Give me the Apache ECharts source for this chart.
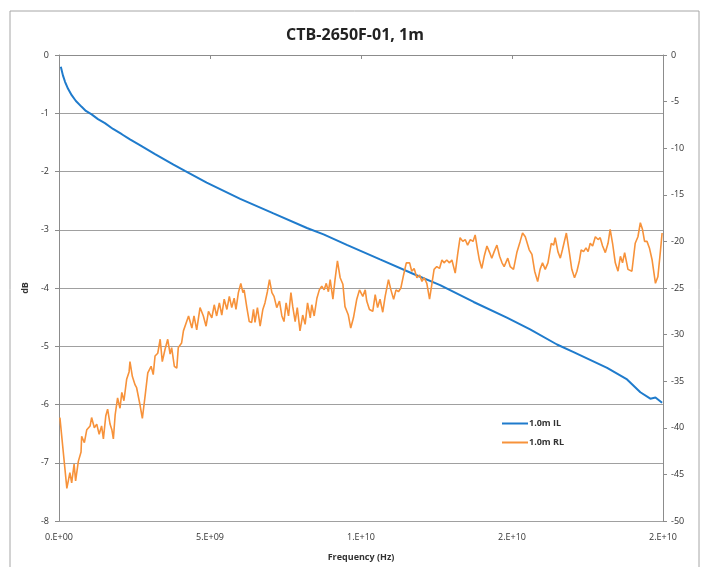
<!DOCTYPE html>
<html>
<head>
<meta charset="utf-8">
<script src="https://cdn.jsdelivr.net/npm/echarts@6/dist/echarts.min.js"></script>
<style>
  html, body { margin: 0; padding: 0; background: #fff; }
  #chart { width: 710px; height: 567px; }
</style>
</head>
<body>
<div id="chart"></div>
<script>
// 1.0m IL, frequency in GHz, loss in dB (left axis)
var ilFreq = [0.06, 0.13, 0.20, 0.30, 0.42, 0.56, 0.75, 0.89, 1.08, 1.29, 1.52, 1.79, 2.08, 2.35,
  2.65, 3.18, 3.79, 4.17, 4.89, 6.00, 7.10, 8.21, 8.76, 9.53, 10.63, 11.74, 12.62, 13.73, 14.83,
  15.60, 16.49, 17.04, 18.15, 18.81, 19.25, 19.58, 19.75, 19.97];
var ilValues = [-0.20, -0.35, -0.46, -0.58, -0.69, -0.79, -0.89, -0.96, -1.02, -1.10, -1.17, -1.27,
  -1.36, -1.45, -1.54, -1.70, -1.88, -1.99, -2.19, -2.47, -2.72, -2.97, -3.08, -3.26, -3.51, -3.76,
  -3.95, -4.24, -4.51, -4.71, -4.97, -5.10, -5.37, -5.57, -5.79, -5.90, -5.88, -5.97];

// 1.0m RL, frequency in GHz, dB (right axis)
var rlFreq = [0.03, 0.26, 0.36, 0.42, 0.50, 0.55, 0.64, 0.73, 0.75, 0.84, 0.92, 1.03, 1.08, 1.17,
  1.25, 1.33, 1.41, 1.47, 1.55, 1.61, 1.69, 1.75, 1.80, 1.86, 1.94, 2.02, 2.08, 2.15, 2.24, 2.32,
  2.35, 2.43, 2.52, 2.57, 2.68, 2.76, 2.85, 2.94, 3.05, 3.12, 3.18, 3.27, 3.35, 3.42, 3.51, 3.60,
  3.68, 3.73, 3.82, 3.90, 3.95, 4.06, 4.12, 4.29, 4.40, 4.47, 4.56, 4.67, 4.78, 4.87, 4.95, 5.06,
  5.14, 5.22, 5.31, 5.39, 5.47, 5.56, 5.64, 5.72, 5.80, 5.86, 5.94, 6.02, 6.09, 6.13, 6.22, 6.30,
  6.38, 6.44, 6.49, 6.57, 6.66, 6.75, 6.82, 6.90, 6.97, 7.05, 7.12, 7.21, 7.30, 7.38, 7.45, 7.52,
  7.60, 7.68, 7.74, 7.82, 7.89, 7.98, 8.07, 8.15, 8.23, 8.32, 8.37, 8.45, 8.54, 8.62, 8.70, 8.78,
  8.85, 8.92, 8.98, 9.07, 9.14, 9.22, 9.31, 9.40, 9.47, 9.58, 9.66, 9.75, 9.86, 9.95, 10.06, 10.14,
  10.19, 10.28, 10.39, 10.47, 10.55, 10.63, 10.72, 10.80, 10.91, 10.99, 11.08, 11.16, 11.24, 11.32,
  11.41, 11.50, 11.61, 11.68, 11.76, 11.85, 11.94, 12.02, 12.09, 12.18, 12.27, 12.35, 12.42, 12.51,
  12.60, 12.68, 12.75, 12.84, 12.93, 13.01, 13.12, 13.20, 13.28, 13.37, 13.45, 13.53, 13.62, 13.71,
  13.78, 13.86, 13.92, 14.00, 14.08, 14.17, 14.26, 14.33, 14.41, 14.50, 14.59, 14.67, 14.74, 14.86,
  14.94, 15.05, 15.16, 15.27, 15.35, 15.44, 15.49, 15.57, 15.66, 15.75, 15.85, 15.93, 16.01, 16.10,
  16.19, 16.30, 16.38, 16.43, 16.52, 16.60, 16.67, 16.80, 16.90, 16.98, 17.07, 17.15, 17.23, 17.29,
  17.37, 17.45, 17.52, 17.59, 17.67, 17.76, 17.85, 17.92, 18.00, 18.09, 18.18, 18.25, 18.33, 18.42,
  18.51, 18.59, 18.66, 18.73, 18.84, 18.97, 19.08, 19.17, 19.25, 19.32, 19.39, 19.47, 19.55, 19.64,
  19.75, 19.83, 19.91, 19.97];
var rlValues = [-38.9, -46.5, -44.8, -45.9, -43.9, -45.7, -43.6, -42.6, -40.9, -41.6, -40.2, -39.8,
  -38.9, -40.0, -39.6, -40.7, -39.8, -41.2, -38.7, -38.0, -39.6, -40.2, -41.2, -38.6, -36.8, -37.9,
  -36.2, -37.1, -34.8, -34.0, -32.9, -34.5, -35.4, -35.7, -37.5, -39.0, -36.6, -34.1, -33.4, -34.3,
  -32.3, -32.0, -30.5, -32.9, -31.6, -30.5, -32.1, -31.4, -33.4, -33.6, -31.4, -30.9, -29.6, -28.0,
  -29.3, -28.0, -29.5, -27.1, -28.0, -29.1, -27.5, -28.2, -26.8, -28.0, -26.6, -27.9, -26.2, -27.3,
  -25.9, -27.1, -26.1, -27.3, -25.5, -24.5, -25.5, -25.2, -27.1, -28.6, -28.7, -27.3, -28.7, -27.1,
  -29.1, -27.3, -26.6, -25.4, -24.1, -25.5, -25.9, -27.1, -26.4, -28.0, -28.6, -26.6, -28.0, -25.5,
  -27.0, -28.6, -27.1, -29.6, -27.9, -28.9, -26.6, -28.2, -26.8, -28.0, -26.1, -25.2, -24.8, -25.2,
  -24.5, -25.4, -24.1, -26.2, -24.1, -22.1, -23.9, -24.6, -27.0, -27.9, -29.3, -28.2, -26.2, -25.2,
  -25.9, -25.2, -26.4, -27.3, -27.5, -25.7, -27.1, -26.2, -27.6, -25.9, -24.1, -25.2, -26.2, -25.2,
  -25.4, -25.0, -23.6, -22.3, -22.3, -23.2, -22.9, -23.9, -23.6, -24.3, -23.9, -24.5, -26.2, -24.5,
  -23.0, -22.7, -22.9, -22.0, -22.3, -22.0, -22.3, -22.0, -23.4, -21.4, -19.6, -20.0, -19.8, -20.4,
  -19.8, -20.0, -19.3, -20.9, -22.0, -22.9, -21.6, -20.5, -21.2, -21.8, -21.1, -20.4, -21.6, -22.3,
  -22.7, -21.8, -22.7, -23.0, -21.2, -20.0, -19.1, -19.5, -19.5, -20.9, -21.4, -23.2, -24.3, -23.0,
  -22.3, -23.0, -22.3, -20.2, -20.4, -19.6, -21.1, -21.8, -20.9, -19.1, -21.2, -23.0, -23.9, -23.2,
  -22.1, -20.9, -21.1, -20.7, -21.1, -20.2, -20.5, -19.5, -19.8, -19.6, -20.5, -21.2, -20.2, -18.7,
  -20.2, -22.3, -23.2, -21.6, -22.3, -21.2, -23.0, -23.2, -20.2, -19.5, -18.0, -18.7, -20.0, -20.0,
  -20.7, -22.0, -24.5, -23.8, -21.2, -19.1];

var seriesNames = ['1.0m IL', '1.0m RL'];

function pairs(freq, vals) {
  var out = [];
  for (var i = 0; i < freq.length; i++) out.push([freq[i] * 1e9, vals[i]]);
  return out;
}

// Excel style "0.E+00"
function sciLabel(v) {
  if (v === 0) return '0.E+00';
  var e = Math.floor(Math.log10(v));
  var m = Math.round(v / Math.pow(10, e));
  if (m === 10) { m = 1; e += 1; }
  return m + '.E+' + (e < 10 ? '0' + e : e);
}

var axisGray = '#8c8c8c';
var labelFont = { color: '#333', fontSize: 9, fontFamily: 'Open Sans' };

option = {
  animation: false,
  backgroundColor: '#fff',
  title: {
    text: 'CTB-2650F-01, 1m',
    left: 'center',
    top: 22,
    textStyle: { fontFamily: 'Open Sans', fontSize: 16, fontWeight: 'bold', color: '#222' }
  },
  graphic: [{
    type: 'rect',
    shape: { x: 10, y: 11, width: 689, height: 600 },
    style: { fill: 'none', stroke: '#a6a6a6', lineWidth: 1 },
    silent: true
  }],
  grid: { left: 59, right: 47, top: 55, bottom: 45 },
  legend: {
    orient: 'vertical',
    left: 497,
    top: 414,
    icon: 'rect',
    itemWidth: 26,
    itemHeight: 2,
    itemGap: 10,
    data: seriesNames,
    textStyle: { fontFamily: 'Open Sans', fontSize: 9, fontWeight: 'bold', color: '#333', padding: [0, 0, 0, -4] }
  },
  xAxis: {
    type: 'value',
    min: 0,
    max: 2e10,
    interval: 5e9,
    name: 'Frequency (Hz)',
    nameLocation: 'middle',
    nameGap: 32,
    nameTextStyle: { fontFamily: 'Open Sans', fontSize: 9, fontWeight: 'bold', color: '#333' },
    axisLine: { show: true, lineStyle: { color: axisGray } },
    axisTick: { show: true, length: 4, lineStyle: { color: axisGray } },
    axisLabel: Object.assign({ margin: 12, formatter: sciLabel, showMaxLabel: true }, labelFont),
    splitLine: { show: false }
  },
  yAxis: [{
    type: 'value',
    position: 'left',
    min: -8,
    max: 0,
    interval: 1,
    name: 'dB',
    nameLocation: 'middle',
    nameGap: 24,
    nameTextStyle: { fontFamily: 'Open Sans', fontSize: 9, fontWeight: 'bold', color: '#333' },
    axisLine: { show: true, lineStyle: { color: axisGray } },
    axisTick: { show: true, length: 4, lineStyle: { color: axisGray } },
    axisLabel: Object.assign({ margin: 10 }, labelFont),
    splitLine: { show: true, lineStyle: { color: '#a0a0a0', width: 1 } }
  }, {
    type: 'value',
    position: 'right',
    min: -50,
    max: 0,
    interval: 5,
    axisLine: { show: true, lineStyle: { color: axisGray } },
    axisTick: { show: true, length: 4, lineStyle: { color: axisGray } },
    axisLabel: Object.assign({ margin: 8 }, labelFont),
    splitLine: { show: false }
  }],
  series: [{
    name: seriesNames[0],
    type: 'line',
    yAxisIndex: 0,
    showSymbol: false,
    symbol: 'none',
    smooth: false,
    lineStyle: { color: '#1f7bcc', width: 2 },
    itemStyle: { color: '#1f7bcc' },
    data: pairs(ilFreq, ilValues)
  }, {
    name: seriesNames[1],
    type: 'line',
    yAxisIndex: 1,
    showSymbol: false,
    symbol: 'none',
    smooth: false,
    lineStyle: { color: '#f7923a', width: 1.6 },
    itemStyle: { color: '#f7923a' },
    data: pairs(rlFreq, rlValues)
  }]
};

var myChart = echarts.init(document.getElementById('chart'));
myChart.setOption(option, true);
</script>
</body>
</html>
